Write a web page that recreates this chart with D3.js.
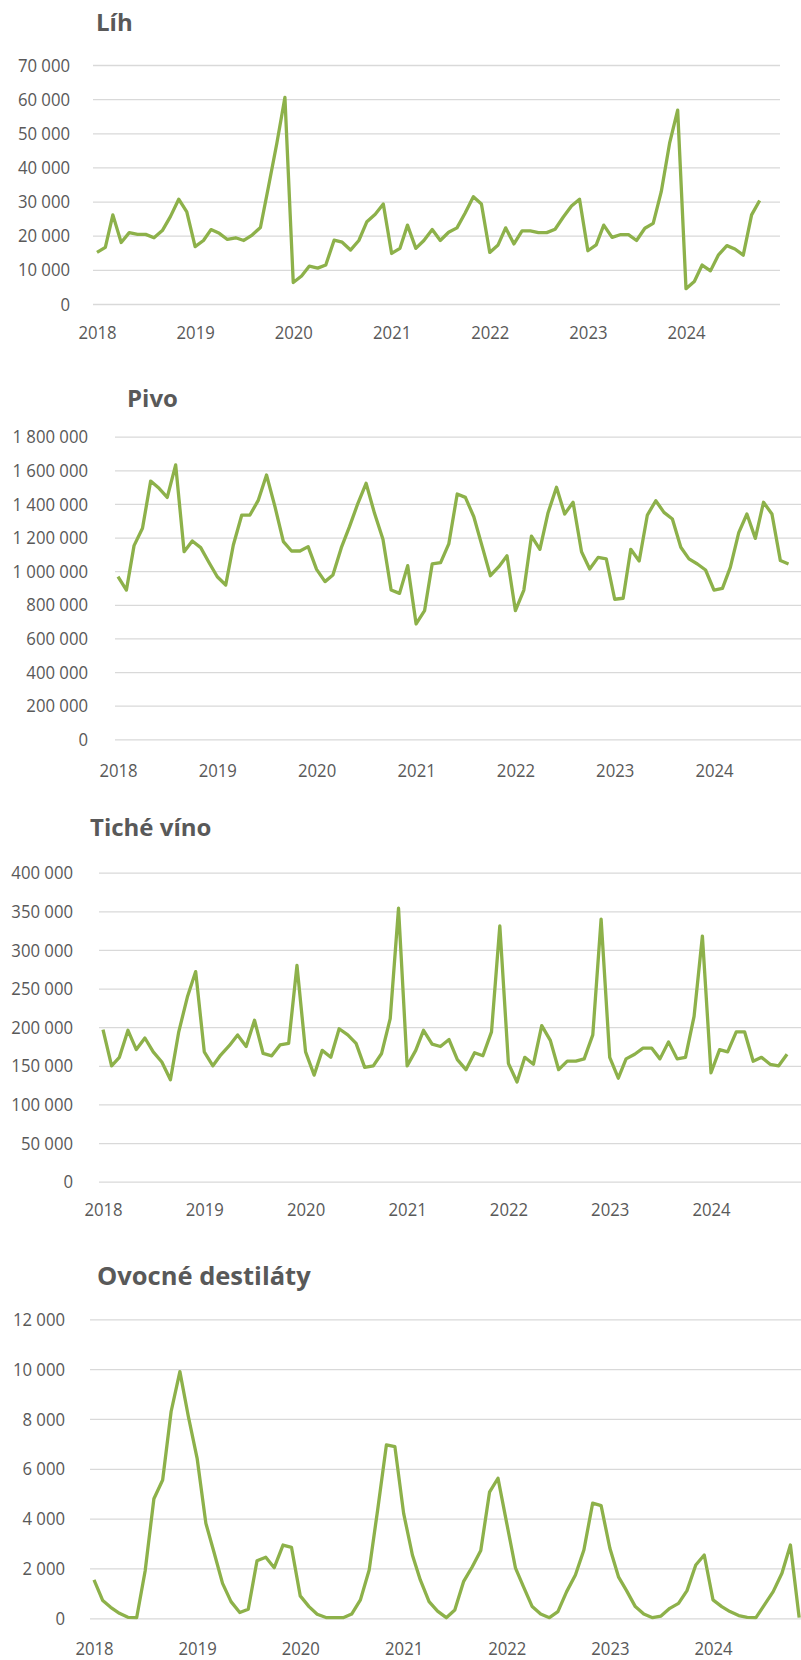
<!DOCTYPE html>
<html>
<head>
<meta charset="utf-8">
<script src="https://cdn.jsdelivr.net/npm/d3@7"></script>
<style>
  body { margin: 0; background: #fff; }
  text { font-family: "Open Sans", sans-serif; fill: #595959; }
</style>
</head>
<body>
<svg id="chart" width="801" height="1660"></svg>
<script>
// monthly values, Jan 2018 onwards
const lih = [
  15100, 16600, 26100, 18000, 20900, 20400, 20400, 19400, 21500, 25600, 30700, 27000,
  16800, 18600, 21800, 20700, 18900, 19400, 18600, 20200, 22400, 34400, 47100, 60500,
  6300, 8200, 11100, 10500, 11400, 18700, 18100, 15800, 18600, 24100, 26300, 29300,
  14800, 16300, 23100, 16300, 18600, 21800, 18600, 21000, 22300, 26600, 31400, 29300,
  15100, 17300, 22300, 17600, 21400, 21400, 20900, 20900, 21900, 25400, 28700, 30700,
  15600, 17300, 23100, 19500, 20300, 20300, 18600, 22200, 23600, 32900, 47100, 56800,
  4500, 6600, 11400, 9700, 14400, 17100, 16100, 14300, 26100, 30300
];

const pivo = [
  967000, 888000, 1152000, 1255000, 1536000, 1493000, 1439000, 1632000, 1116000, 1180000, 1140000, 1053000,
  967000, 918000, 1156000, 1334000, 1334000, 1423000, 1572000, 1384000, 1176000, 1120000, 1120000, 1146000,
  1011000, 938000, 977000, 1140000, 1265000, 1404000, 1523000, 1344000, 1190000, 888000, 868000, 1033000,
  686000, 765000, 1043000, 1051000, 1162000, 1459000, 1439000, 1324000, 1146000, 973000, 1027000, 1092000,
  765000, 888000, 1209000, 1130000, 1348000, 1499000, 1340000, 1410000, 1116000, 1013000, 1082000, 1073000,
  833000, 839000, 1130000, 1061000, 1334000, 1419000, 1350000, 1310000, 1142000, 1073000, 1043000, 1007000,
  888000, 898000, 1023000, 1229000, 1340000, 1195000, 1410000, 1340000, 1063000, 1043000
];

const ticheVino = [
  197000, 150000, 161000, 196000, 171000, 186000, 168000, 155000, 132000, 194000, 239000, 272000,
  168000, 150000, 164000, 176000, 190000, 175000, 209000, 166000, 163000, 177000, 179000, 280000,
  168000, 138000, 170000, 161000, 198000, 190000, 179000, 148000, 150000, 166000, 211000, 354000,
  150000, 170000, 196000, 178000, 175000, 184000, 158000, 145000, 167000, 163000, 194000, 331000,
  153000, 129000, 161000, 152000, 202000, 183000, 145000, 156000, 156000, 159000, 190000, 340000,
  161000, 134000, 159000, 165000, 173000, 173000, 159000, 181000, 159000, 161000, 214000, 318000,
  141000, 171000, 168000, 194000, 194000, 156000, 161000, 152000, 150000, 165000
];

const ovocneDestilaty = [
  1540, 710, 440, 200, 40, 25, 1900, 4800, 5550, 8300, 9900, 8100,
  6420, 3810, 2680, 1400, 670, 230, 360, 2310, 2450, 2030, 2940, 2850,
  900, 470, 160, 30, 25, 25, 170, 740, 1940, 4350, 6960, 6890,
  4210, 2540, 1540, 670, 290, 25, 330, 1470, 2070, 2720, 5060, 5620,
  3810, 2010, 1270, 470, 170, 25, 270, 1070, 1740, 2740, 4620, 4520,
  2810, 1650, 1110, 470, 170, 25, 90, 400, 600, 1110, 2140, 2540,
  740, 470, 270, 110, 40, 25, 540, 1070, 1810, 2940, 25
];

const years = [2018, 2019, 2020, 2021, 2022, 2023, 2024];

const lihTicks = [0, 10000, 20000, 30000, 40000, 50000, 60000, 70000];
const pivoTicks = [0, 200000, 400000, 600000, 800000, 1000000, 1200000, 1400000, 1600000, 1800000];
const vinoTicks = [0, 50000, 100000, 150000, 200000, 250000, 300000, 350000, 400000];
const ovocneTicks = [0, 2000, 4000, 6000, 8000, 10000, 12000];

// one entry per month, starting Jan 2018
const months = d3.timeMonth.range(new Date(2018, 0, 1), new Date(2024, 11, 1));

const panels = [
  { title: "Líh", values: lih, ticks: lihTicks,
    x0: 97, x1: 686, gl: 93, gr: 780, top: 65, bottom: 304, pad: 23, xOff: 28, tx: 96, ty: 31, tsize: 24 },
  { title: "Pivo", values: pivo, ticks: pivoTicks,
    x0: 118, x1: 714, gl: 115, gr: 801, top: 436.7, bottom: 739.3, pad: 27, xOff: 31, tx: 127, ty: 407, tsize: 24 },
  { title: "Tiché víno", values: ticheVino, ticks: vinoTicks,
    x0: 103, x1: 711, gl: 99, gr: 801, top: 872.7, bottom: 1181.7, pad: 26, xOff: 28, tx: 90, ty: 836, tsize: 24 },
  { title: "Ovocné destiláty", values: ovocneDestilaty, ticks: ovocneTicks,
    x0: 94, x1: 713, gl: 90, gr: 801, top: 1319.3, bottom: 1618.3, pad: 25, xOff: 30, tx: 97, ty: 1285, tsize: 25.5 }
];

const locale = d3.formatLocale({ decimal: ",", thousands: " ", grouping: [3], currency: ["", ""] });
const fmt = locale.format(",d");

const svg = d3.select("#chart");

panels.forEach((p) => {
  const g = svg.append("g");

  const x = d3.scaleTime()
    .domain([new Date(2018, 0, 1), new Date(2024, 0, 1)])
    .range([p.x0, p.x1]);
  const y = d3.scaleLinear()
    .domain([0, d3.max(p.ticks)])
    .range([p.bottom, p.top]);

  // gridlines + value labels
  g.append("g")
    .attr("transform", `translate(${p.gl},0)`)
    .call(d3.axisLeft(y).tickValues(p.ticks).tickSize(-(p.gr - p.gl)).tickFormat(fmt))
    .call((s) => s.select(".domain").remove())
    .call((s) => s.selectAll("line").attr("stroke", "#d9d9d9").attr("stroke-width", 1.3))
    .call((s) => s.selectAll("text")
      .attr("x", 0)
      .attr("font-size", 19)
      .attr("transform", `translate(${-p.pad},0) scale(0.88,1)`));

  // year labels
  g.append("g")
    .attr("transform", `translate(0,${p.bottom})`)
    .call(d3.axisBottom(x)
      .tickValues(years.map((yr) => new Date(yr, 0, 1)))
      .tickFormat(d3.timeFormat("%Y"))
      .tickSize(0))
    .call((s) => s.select(".domain").remove())
    .call((s) => s.selectAll("text")
      .attr("y", 0)
      .attr("dy", "0.35em")
      .attr("font-size", 19)
      .attr("transform", `translate(0,${p.xOff}) scale(0.88,1)`));

  const line = d3.line()
    .x((d, i) => x(months[i]))
    .y((d) => y(d));

  g.append("path")
    .datum(p.values)
    .attr("fill", "none")
    .attr("stroke", "#8db14a")
    .attr("stroke-width", 3.3)
    .attr("stroke-linejoin", "round")
    .attr("d", line);

  g.append("text")
    .attr("x", p.tx)
    .attr("y", p.ty)
    .attr("font-size", p.tsize)
    .attr("font-weight", 700)
    .text(p.title);
});
</script>
</body>
</html>
